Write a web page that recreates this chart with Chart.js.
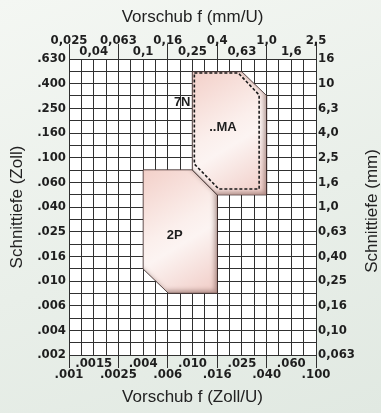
<!DOCTYPE html>
<html>
<head>
<meta charset="utf-8">
<script src="https://cdn.jsdelivr.net/npm/chart.js@4"></script>
<style>
  html, body { margin: 0; padding: 0; width: 381px; height: 413px; overflow: hidden; }
  body { background: linear-gradient(160deg, #f4f7f3 0%, #e9efe9 55%, #e1e9e2 100%); }
  canvas { display: block; }
</style>
</head>
<body>
<canvas id="chart" width="381" height="413"></canvas>
<script>
// Tick labels (every second grid line of the R10 log grid carries a label)
const feedInchLabels  = ['.001', '.0015', '.0025', '.004', '.006', '.010', '.016', '.025', '.040', '.060', '.100'];
const feedMmLabels    = ['0,025', '0,04', '0,063', '0,1', '0,16', '0,25', '0,4', '0,63', '1,0', '1,6', '2,5'];
const depthInchLabels = ['.002', '.004', '.006', '.010', '.016', '.025', '.040', '.060', '.100', '.160', '.250', '.400', '.630'];
const depthMmLabels   = ['0,063', '0,10', '0,16', '0,25', '0,40', '0,63', '1,0', '1,6', '2,5', '4,0', '6,3', '10', '16'];

// Application areas: feed f (mm/U) and depth of cut (mm) at the outline corners
const areaNames = ['2P', '..MA', '7N'];
const feed2P  = [0.10, 0.25, 0.40, 0.40, 0.16, 0.10];
const depth2P = [2.0, 2.0, 1.25, 0.20, 0.20, 0.315];
const feedMA  = [0.25, 0.63, 1.0, 1.0, 0.40, 0.25];
const depthMA = [12.5, 12.5, 8.0, 1.25, 1.25, 2.0];
const feed7N  = [0.26, 0.59, 0.87, 0.87, 0.41, 0.26];
const depth7N = [12.2, 12.2, 8.1, 1.4, 1.4, 2.23];

// Where each area name is written (mm/U, mm)
const nameFeed  = [0.18, 0.443, 0.242];
const nameDepth = [0.59, 4.4, 7.11];

const SANS = "'Liberation Sans', Arial, Helvetica, sans-serif";
const NARROW = "'Liberation Sans Narrow', 'Arial Narrow', 'DejaVu Sans Condensed', sans-serif";
const INK = '#1e1e1e';
const GRID = '#303030';
const tickFont = { family: NARROW, size: 13, weight: 'bold', lineHeight: 11 / 13 };
const titleFont = { family: SANS, size: 17 };

// closed outline as {x, y} points
const outline = (fx, dy) => fx.concat(fx[0]).map((f, i) => ({ x: f, y: dy.concat(dy[0])[i] }));
// grid steps of 1/10 decade, starting at 10^(lo/10)
const steps = (lo, n) => Array.from({ length: n + 1 }, (_, k) => ({ value: Math.pow(10, (lo + k) / 10) }));

// labels on the horizontal axes alternate between two rows;
// the first line of a label is the one nearest to its axis on the bottom, farthest on top
const rowLabel = (arr, k, bottom) => {
  if (k % 2) return '';
  const j = k / 2;
  const inner = j % 2 === 1;
  if (bottom) return inner ? [arr[j], ''] : ['', arr[j]];
  return inner ? ['', arr[j]] : [arr[j], ''];
};
const majorTick = ctx => (ctx.index % 4 === 0 ? GRID : 'rgba(0,0,0,0)');

// pink sheen across each area's bounding box
function areaFill(ctx) {
  const chart = ctx.chart;
  const xs = chart.scales.xmm, ys = chart.scales.ymm;
  const data = ctx.dataset && ctx.dataset.data;
  if (!xs || !ys || !data || xs.width === undefined) return '#f6ddd8';
  const px = data.map(p => xs.getPixelForValue(p.x));
  const py = data.map(p => ys.getPixelForValue(p.y));
  if (px.some(v => !isFinite(v)) || py.some(v => !isFinite(v))) return '#f6ddd8';
  const g = chart.ctx.createLinearGradient(Math.min(...px), Math.min(...py), Math.max(...px), Math.max(...py));
  g.addColorStop(0, '#f3d0c9');
  g.addColorStop(0.45, '#fbefec');
  g.addColorStop(0.58, '#fcf4f2');
  g.addColorStop(1, '#f0cbc5');
  return g;
}

// white cells behind the grid
const plotBackground = {
  id: 'plotBackground',
  beforeDraw(chart) {
    const { ctx, chartArea: a } = chart;
    ctx.save();
    ctx.fillStyle = '#ffffff';
    ctx.fillRect(a.left, a.top, a.right - a.left, a.bottom - a.top);
    ctx.restore();
  }
};

// soft inner shading along the lower and right edges of the filled areas
const areaShade = {
  id: 'areaShade',
  afterDatasetDraw(chart, args) {
    const ds = chart.data.datasets[args.index];
    if (!ds.shaded) return;
    const pts = args.meta.data;
    const c = chart.ctx;
    const trace = () => {
      c.moveTo(pts[0].x, pts[0].y);
      for (let i = 1; i < pts.length; i++) c.lineTo(pts[i].x, pts[i].y);
      c.closePath();
    };
    c.save();
    c.beginPath(); trace(); c.clip();
    c.beginPath();
    c.rect(-100, -100, chart.width + 200, chart.height + 200);
    trace();
    c.shadowColor = 'rgba(120,85,80,0.5)';
    c.shadowBlur = 4;
    c.shadowOffsetX = -3;
    c.shadowOffsetY = -3;
    c.fillStyle = '#000';
    c.fill('evenodd');
    c.restore();
  }
};

// area names and the right-hand axis title
const annotations = {
  id: 'annotations',
  afterDatasetsDraw(chart) {
    const c = chart.ctx;
    const xs = chart.scales.xmm, ys = chart.scales.ymm;
    const align = ['center', 'center', 'right'];
    c.save();
    c.font = `bold 13px ${SANS}`;
    c.fillStyle = INK;
    c.textBaseline = 'middle';
    areaNames.forEach((name, i) => {
      c.textAlign = align[i];
      c.fillText(name, xs.getPixelForValue(nameFeed[i]), ys.getPixelForValue(nameDepth[i]));
    });
    c.restore();
  },
  afterDraw(chart) {
    const c = chart.ctx;
    const a = chart.chartArea;
    c.save();
    c.translate(chart.width - 9, (a.top + a.bottom) / 2 + 4);
    c.rotate(-Math.PI / 2);
    c.font = `17px ${SANS}`;
    c.fillStyle = '#222';
    c.textAlign = 'center';
    c.textBaseline = 'middle';
    c.fillText('Schnittiefe (mm)', 0, 0);
    c.restore();
  }
};

const areaLine = { pointRadius: 0, pointHoverRadius: 0, tension: 0, xAxisID: 'xmm', yAxisID: 'ymm' };

new Chart(document.getElementById('chart'), {
  type: 'line',
  data: {
    datasets: [
      Object.assign({}, areaLine, {
        label: areaNames[0], data: outline(feed2P, depth2P), order: 2, shaded: true,
        fill: 'shape', backgroundColor: areaFill, borderColor: 'rgba(70,50,50,0.7)', borderWidth: 1
      }),
      Object.assign({}, areaLine, {
        label: areaNames[1], data: outline(feedMA, depthMA), order: 1, shaded: true,
        fill: 'shape', backgroundColor: areaFill, borderColor: 'rgba(70,50,50,0.7)', borderWidth: 1
      }),
      Object.assign({}, areaLine, {
        label: areaNames[2], data: outline(feed7N, depth7N), order: 0,
        fill: false, borderColor: '#1a1a1a', borderWidth: 1.6, borderDash: [3, 2]
      })
    ]
  },
  options: {
    responsive: false,
    animation: false,
    events: [],
    layout: { padding: 0 },
    plugins: { legend: { display: false }, tooltip: { enabled: false } },
    scales: {
      xin: {
        type: 'logarithmic', position: 'bottom', bounds: 'data',
        min: Math.pow(10, -3), max: Math.pow(10, -1),
        afterBuildTicks: s => { s.ticks = steps(-30, 20); },
        afterFit: s => { s.height = 58; },
        grid: { drawOnChartArea: true, color: GRID, lineWidth: 1, drawTicks: true, tickLength: 13, tickColor: majorTick, tickWidth: 1 },
        border: { color: GRID, width: 1 },
        ticks: { autoSkip: false, maxRotation: 0, minRotation: 0, padding: -10, color: INK, font: tickFont,
                 callback: (v, k) => rowLabel(feedInchLabels, k, true) },
        title: { display: true, text: 'Vorschub f (Zoll/U)', color: '#222', font: titleFont, padding: { top: 0, bottom: 5 } }
      },
      xmm: {
        type: 'logarithmic', position: 'top', bounds: 'data',
        min: Math.pow(10, -16 / 10), max: Math.pow(10, 4 / 10),
        afterBuildTicks: s => { s.ticks = steps(-16, 20); },
        afterFit: s => { s.height = 59; },
        grid: { drawOnChartArea: false, drawTicks: true, tickLength: 15, tickColor: majorTick, tickWidth: 1 },
        border: { color: GRID, width: 1 },
        ticks: { autoSkip: false, maxRotation: 0, minRotation: 0, padding: -13, color: INK, font: tickFont,
                 callback: (v, k) => rowLabel(feedMmLabels, k, false) },
        title: { display: true, text: 'Vorschub f (mm/U)', color: '#222', font: titleFont, padding: { top: 7, bottom: 0 } }
      },
      yin: {
        type: 'logarithmic', position: 'left', bounds: 'data',
        min: Math.pow(10, -26 / 10), max: Math.pow(10, -2 / 10),
        afterBuildTicks: s => { s.ticks = steps(-26, 24); },
        afterFit: s => { s.width = 69; },
        grid: { drawOnChartArea: false, drawTicks: false },
        border: { color: GRID, width: 1 },
        ticks: { autoSkip: false, padding: 3, color: INK, font: tickFont,
                 callback: (v, k) => (k % 2 ? '' : depthInchLabels[k / 2]) },
        title: { display: true, text: 'Schnittiefe (Zoll)', color: '#222', font: titleFont, padding: { top: 7, bottom: 0 } }
      },
      ymm: {
        type: 'logarithmic', position: 'right', bounds: 'data',
        min: Math.pow(10, -12 / 10), max: Math.pow(10, 12 / 10),
        afterBuildTicks: s => { s.ticks = steps(-12, 24); },
        afterFit: s => { s.width = 65; },
        grid: { drawOnChartArea: true, color: GRID, lineWidth: 1, drawTicks: false },
        border: { color: GRID, width: 1 },
        ticks: { autoSkip: false, padding: 2, color: INK, font: tickFont,
                 callback: (v, k) => (k % 2 ? '' : depthMmLabels[k / 2]) },
        title: { display: false }
      }
    }
  },
  plugins: [plotBackground, areaShade, annotations]
});
</script>
</body>
</html>
